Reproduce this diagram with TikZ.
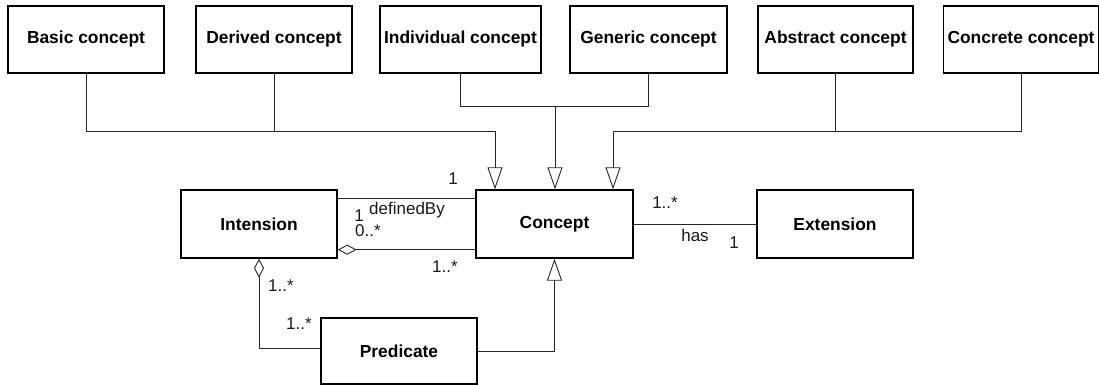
\documentclass[tikz,border=0pt]{standalone}
\usepackage{fontspec}
\setmainfont{Liberation Sans}
\usetikzlibrary{arrows.meta,calc}

\begin{document}
\begin{tikzpicture}[x=1pt,y=-1pt,
  cls/.style={draw=black,line width=1.4pt,fill=white,minimum width=156pt,minimum height=67pt,
    inner sep=0pt,font=\fontsize{17.4}{20}\selectfont\bfseries},
  link/.style={draw=black!85,line width=0.9pt},
  gen/.style={link,-{Triangle[open,length=22pt,width=15pt,line width=0.9pt]}},
  agg/.style={link,{Diamond[open,length=19pt,width=10pt,line width=0.9pt]}-},
  lbl/.style={font=\fontsize{17}{20}\selectfont,inner sep=0pt,text=black!90}]

\useasboundingbox (0,0) rectangle (1099,385);

% specialisations of Concept
\node[cls] (basic) at (86,39.5) {Basic concept};
\node[cls] (derived) at (274,39.5) {Derived concept};
\node[cls,minimum width=161pt] (individual) at (460.5,39.5) {Individual concept};
\node[cls,minimum width=157pt] (generic) at (648.5,39.5) {Generic concept};
\node[cls,minimum width=155pt] (abstract) at (835.5,39.5) {Abstract concept};
\node[cls,minimum width=155pt] (concrete) at (1021,39.5) {Concrete concept};

% core classes
\node[cls,minimum height=68pt] (intension) at (259,224) {Intension};
\node[cls,minimum width=157pt,minimum height=68pt] (concept) at (554.5,224) {Concept};
\node[cls,minimum height=68pt] (extension) at (835,224) {Extension};
\node[cls,minimum height=66pt] (predicate) at (399,351) {Predicate};

% generalisation buses
\coordinate (busL) at (495,131);
\coordinate (busM) at (555,106);
\coordinate (busR) at (613,131);

\draw[link] (basic.south) |- (busL);
\draw[link] (derived.south) -- (derived.south |- busL);
\draw[gen] (busL) -- (busL |- concept.north);

\draw[link] (individual.south) |- (busM);
\draw[link] (generic.south) |- (busM);
\draw[gen] (busM) -- (busM |- concept.north);

\draw[link] (concrete.south) |- (busR);
\draw[link] (abstract.south) -- (abstract.south |- busR);
\draw[gen] (busR) -- (busR |- concept.north);

% associations between Intension and Concept
\coordinate (iTop) at ($(intension.north east)+(0,9)$);
\coordinate (iBot) at ($(intension.south east)+(0,-9)$);
\draw[link] (iTop) -- (iTop -| concept.west);
\draw[agg] (iBot) -- (iBot -| concept.west);

% Concept has Extension
\draw[link] (concept.east) -- (extension.west);

% Intension aggregates Predicate
\coordinate (pIn) at ($(predicate.west)+(0,-3)$);
\draw[agg] (intension.south) |- (pIn);

% Predicate specialises Concept
\draw[gen] (predicate.east) -| (concept.south);

% multiplicities and role names
\node[lbl] (m1) at (453,179) {1};
\node[lbl] (rdef) at (407,210) {definedBy};
\node[lbl] (m2) at (359,215.5) {1};
\node[lbl] (m3) at (368,231) {0..*};
\node[lbl] (m4) at (445,267) {1..*};
\node[lbl] (m5) at (665,203) {1..*};
\node[lbl] (rhas) at (695,235) {has};
\node[lbl] (m6) at (734,243) {1};
\node[lbl] (m7) at (281,286) {1..*};
\node[lbl] (m8) at (299,324) {1..*};

\end{tikzpicture}
\end{document}
